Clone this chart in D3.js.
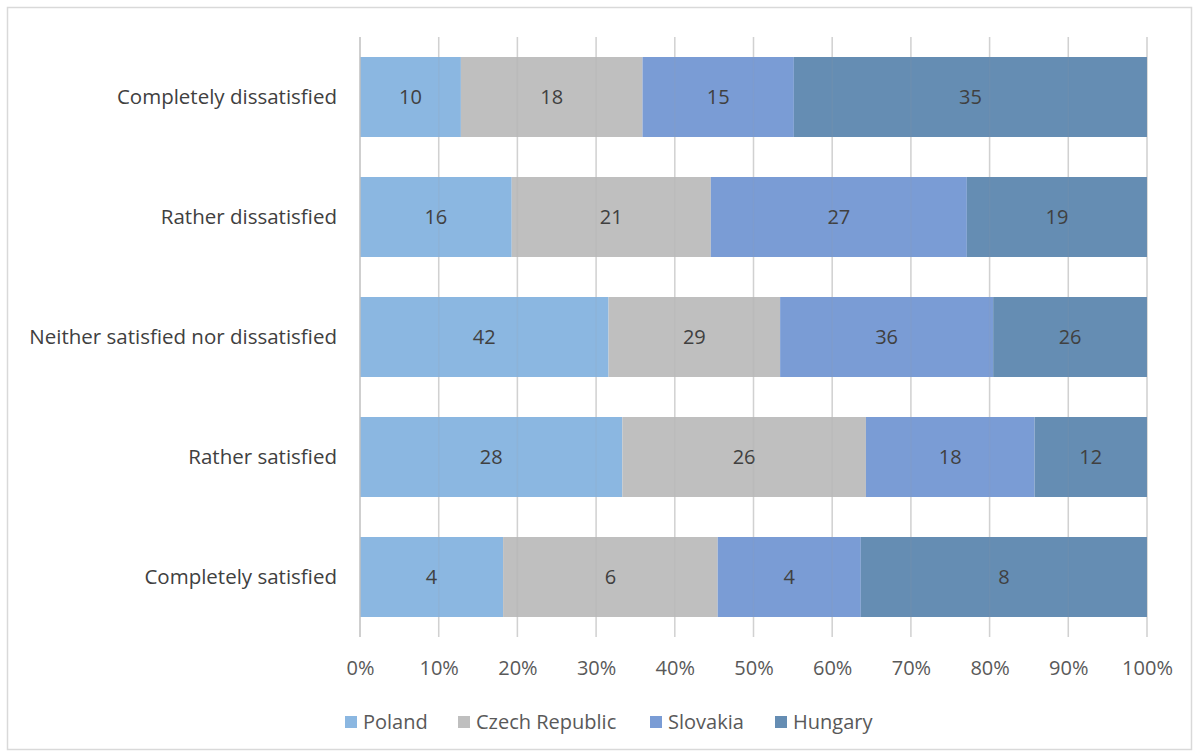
<!DOCTYPE html>
<html>
<head>
<meta charset="utf-8">
<script src="https://cdn.jsdelivr.net/npm/d3@7"></script>
<style>
  html, body { margin: 0; padding: 0; background: #fff; }
  svg { display: block; font-family: "Open Sans", "Noto Sans", sans-serif; }
</style>
</head>
<body>
<svg id="chart" width="1198" height="756"></svg>
<script>
// Survey answers (top to bottom) and counts per country
const categories = [
  "Completely dissatisfied",
  "Rather dissatisfied",
  "Neither satisfied nor dissatisfied",
  "Rather satisfied",
  "Completely satisfied"
];
const seriesNames = ["Poland", "Czech Republic", "Slovakia", "Hungary"];
const poland   = [10, 16, 42, 28, 4];
const czech    = [18, 21, 29, 26, 6];
const slovakia = [15, 27, 36, 18, 4];
const hungary  = [35, 19, 26, 12, 8];
const tickLabels = ["0%", "10%", "20%", "30%", "40%", "50%", "60%", "70%", "80%", "90%", "100%"];
const colors = ["#8BB7E1", "#BFBFBF", "#7A9CD5", "#658DB3"];

const seriesValues = [poland, czech, slovakia, hungary];
const rows = categories.map((c, i) => {
  const r = { category: c };
  seriesNames.forEach((s, j) => { r[s] = seriesValues[j][i]; });
  return r;
});

const svg = d3.select("#chart");
const W = 1198, H = 756;

// outer chart border
svg.append("rect")
  .attr("x", 7.5).attr("y", 7.5)
  .attr("width", W - 14).attr("height", H - 14)
  .attr("fill", "#fff").attr("stroke", "#D9D9D9").attr("stroke-width", 1.5);

const plot = { left: 360, right: 1147, top: 37, bottom: 637 };

const x = d3.scaleLinear().domain([0, 1]).range([plot.left, plot.right]);
const y = d3.scaleBand().domain(categories).range([plot.top, plot.bottom])
  .paddingInner(1 / 3).paddingOuter(1 / 6);

// stacked shares per row
const stack = d3.stack().keys(seriesNames).offset(d3.stackOffsetExpand);
const layers = stack(rows);

// vertical gridlines
const ticks = d3.range(0, 1.0001, 0.1);
svg.append("g").selectAll("line")
  .data(ticks.slice(1))
  .join("line")
  .attr("x1", d => x(d)).attr("x2", d => x(d))
  .attr("y1", plot.top).attr("y2", plot.bottom)
  .attr("stroke", "#D9D9D9").attr("stroke-width", 1.5);

// bars
const g = svg.append("g");
layers.forEach((layer, j) => {
  g.append("g").selectAll("rect")
    .data(layer)
    .join("rect")
    .attr("x", d => x(d[0]))
    .attr("y", d => y(d.data.category))
    .attr("width", d => x(d[1]) - x(d[0]))
    .attr("height", y.bandwidth())
    .attr("fill", colors[j]);
});

// faint gridlines seen through bars
svg.append("g").selectAll("line")
  .data(ticks.slice(1))
  .join("line")
  .attr("x1", d => x(d)).attr("x2", d => x(d))
  .attr("y1", plot.top).attr("y2", plot.bottom)
  .attr("stroke", "#9a9a9a").attr("stroke-opacity", 0.12).attr("stroke-width", 1.5);

// value labels
layers.forEach((layer, j) => {
  g.append("g").selectAll("text")
    .data(layer)
    .join("text")
    .attr("x", d => (x(d[0]) + x(d[1])) / 2)
    .attr("y", d => y(d.data.category) + y.bandwidth() / 2)
    .attr("dy", "0.36em")
    .attr("text-anchor", "middle")
    .attr("font-size", 20)
    .attr("fill", "#404040")
    .text(d => d.data[seriesNames[j]]);
});

// vertical axis line
svg.append("line")
  .attr("x1", plot.left).attr("x2", plot.left)
  .attr("y1", plot.top).attr("y2", plot.bottom)
  .attr("stroke", "#BFBFBF").attr("stroke-width", 1.5);

// category labels
svg.append("g").selectAll("text")
  .data(categories)
  .join("text")
  .attr("x", plot.left - 23)
  .attr("y", d => y(d) + y.bandwidth() / 2)
  .attr("dy", "0.36em")
  .attr("text-anchor", "end")
  .attr("font-size", 20.5)
  .attr("fill", "#404040")
  .text(d => d);

// percentage axis
const xAxis = d3.axisBottom(x).tickValues(ticks)
  .tickFormat((d, i) => tickLabels[i]).tickSize(0).tickPadding(0);
const ax = svg.append("g").attr("transform", `translate(0, ${plot.bottom + 38})`).call(xAxis);
ax.select(".domain").remove();
ax.selectAll("text")
  .attr("font-size", 20)
  .attr("font-family", "\"Open Sans\", sans-serif")
  .attr("fill", "#595959")
  .attr("dy", 0);

// legend
const legendX = [345, 458, 650, 775];
const legend = svg.append("g").selectAll("g")
  .data(seriesNames)
  .join("g")
  .attr("transform", (d, i) => `translate(${legendX[i]}, 722)`);
legend.append("rect")
  .attr("x", 0).attr("y", -6).attr("width", 12).attr("height", 12)
  .attr("fill", (d, i) => colors[i]);
legend.append("text")
  .attr("x", 18).attr("y", 0).attr("dy", "0.36em")
  .attr("font-size", 20)
  .attr("fill", "#595959")
  .text(d => d);
</script>
</body>
</html>
